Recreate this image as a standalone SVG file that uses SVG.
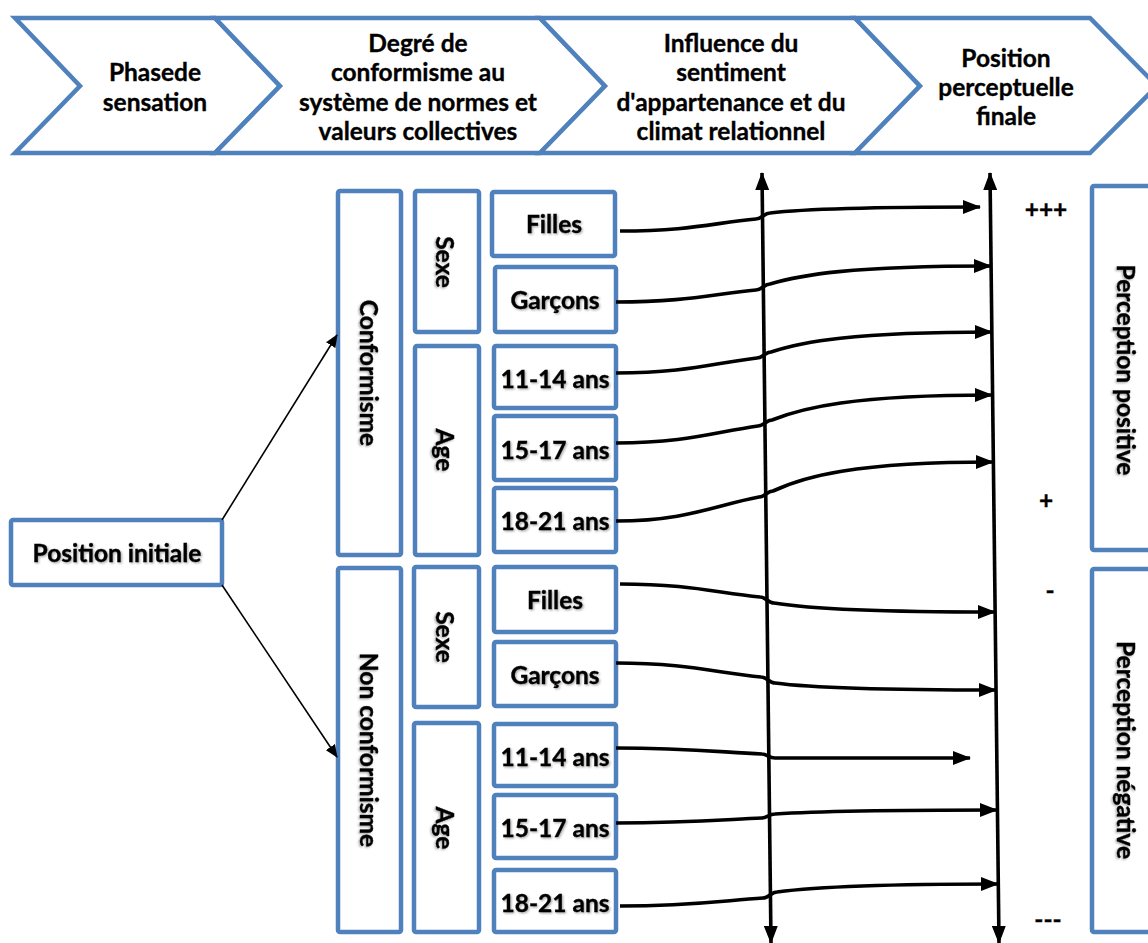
<svg xmlns="http://www.w3.org/2000/svg" width="1148" height="943" viewBox="0 0 1148 943">
<defs>
<style>
.box{fill:#fff;stroke:#4f81bd;stroke-width:4.5;stroke-linejoin:round}
.chev{fill:#fff;stroke:#4f81bd;stroke-width:4.5;stroke-linejoin:miter}
.t{font-family:Lato,"Open Sans","Liberation Sans",sans-serif;font-weight:bold;font-size:24.5px;fill:#000;stroke:#000;stroke-width:0.35;text-anchor:middle;dominant-baseline:central}
.sh{filter:url(#shadow)}
.cur{fill:none;stroke:#000;stroke-width:3.6;marker-end:url(#ah)}
.ax{fill:none;stroke:#000;stroke-width:3.6;marker-start:url(#ah);marker-end:url(#ah)}
.thin{fill:none;stroke:#000;stroke-width:1.6;marker-end:url(#ahs)}
</style>
<filter id="shadow" x="-10%" y="-30%" width="130%" height="160%">
<feDropShadow dx="1.2" dy="1.2" stdDeviation="1" flood-color="#000" flood-opacity="0.35"/>
</filter>
<marker id="ah" markerUnits="userSpaceOnUse" markerWidth="18" markerHeight="14" refX="17" refY="7" orient="auto-start-reverse" viewBox="0 0 18 14">
<path d="M0,0 L18,7 L0,14 Z" fill="#000"/>
</marker>
<marker id="ahs" markerUnits="userSpaceOnUse" markerWidth="13" markerHeight="11" refX="12" refY="5.5" orient="auto" viewBox="0 0 13 11">
<path d="M0,0 L13,5.5 L0,11 Z" fill="#000"/>
</marker>
</defs>
<rect width="1148" height="943" fill="#fff"/>

<g id="chevron1">
<polygon class="chev" points="15,18 215,18 280,86 215,153 15,153 80,86"/>
<text class="t" x="155" y="71">Phasede</text>
<text class="t" x="155" y="101">sensation</text>
</g>
<g id="chevron2">
<polygon class="chev" points="215,18 540,18 605,86 540,153 215,153 280,86"/>
<text class="t" x="418" y="42">Degré de</text>
<text class="t" x="418" y="71">conformisme au</text>
<text class="t" x="418" y="101">système de normes et</text>
<text class="t" x="418" y="130">valeurs collectives</text>
</g>
<g id="chevron3">
<polygon class="chev" points="540,18 855,18 920,86 855,153 540,153 605,86"/>
<text class="t" x="731" y="42">Influence du</text>
<text class="t" x="731" y="71">sentiment</text>
<text class="t" x="731" y="101">d'appartenance et du</text>
<text class="t" x="731" y="130">climat relationnel</text>
</g>
<g id="chevron4">
<polygon class="chev" points="855,18 1090,18 1157,86 1090,153 855,153 920,86"/>
<text class="t" x="1006" y="57">Position</text>
<text class="t" x="1006" y="86">perceptuelle</text>
<text class="t" x="1006" y="115">finale</text>
</g>

<g id="position-initiale">
<rect class="box" x="11" y="520" width="211" height="65" rx="2"/>
<text class="t sh" x="117" y="552">Position initiale</text>
</g>

<g id="conformisme">
<rect class="box" x="338" y="191" width="63" height="364" rx="2"/>
<text class="t sh" transform="translate(370,373) rotate(90)">Conformisme</text>
</g>
<g id="non-conformisme">
<rect class="box" x="338" y="568" width="63" height="364" rx="2"/>
<text class="t sh" transform="translate(370,750) rotate(90)">Non conformisme</text>
</g>

<g id="sexe-c">
<rect class="box" x="415" y="191" width="64" height="141" rx="2"/>
<text class="t sh" transform="translate(446,262) rotate(90)">Sexe</text>
</g>
<g id="age-c">
<rect class="box" x="415" y="346" width="64" height="209" rx="2"/>
<text class="t sh" transform="translate(446,450) rotate(90)">Age</text>
</g>
<g id="sexe-nc">
<rect class="box" x="414" y="567" width="65" height="140" rx="2"/>
<text class="t sh" transform="translate(446,637) rotate(90)">Sexe</text>
</g>
<g id="age-nc">
<rect class="box" x="414" y="723" width="65" height="209" rx="2"/>
<text class="t sh" transform="translate(446,828) rotate(90)">Age</text>
</g>

<g id="filles-c">
<rect class="box" x="492" y="192" width="123" height="64" rx="2"/>
<text class="t sh" x="554" y="223">Filles</text>
</g>
<g id="garcons-c">
<rect class="box" x="495" y="267" width="121" height="65" rx="2"/>
<text class="t sh" x="555" y="299">Garçons</text>
</g>
<g id="a1114-c">
<rect class="box" x="494" y="346" width="122" height="62" rx="2"/>
<text class="t sh" x="555" y="378">11-14 ans</text>
</g>
<g id="a1517-c">
<rect class="box" x="494" y="416" width="122" height="64" rx="2"/>
<text class="t sh" x="555" y="449">15-17 ans</text>
</g>
<g id="a1821-c">
<rect class="box" x="494" y="488" width="122" height="64" rx="2"/>
<text class="t sh" x="555" y="520">18-21 ans</text>
</g>

<g id="filles-nc">
<rect class="box" x="494" y="567" width="122" height="65" rx="2"/>
<text class="t sh" x="555" y="599">Filles</text>
</g>
<g id="garcons-nc">
<rect class="box" x="494" y="642" width="122" height="64" rx="2"/>
<text class="t sh" x="555" y="674">Garçons</text>
</g>
<g id="a1114-nc">
<rect class="box" x="494" y="724" width="122" height="62" rx="2"/>
<text class="t sh" x="555" y="756">11-14 ans</text>
</g>
<g id="a1517-nc">
<rect class="box" x="494" y="795" width="122" height="63" rx="2"/>
<text class="t sh" x="555" y="827">15-17 ans</text>
</g>
<g id="a1821-nc">
<rect class="box" x="494" y="870" width="122" height="62" rx="2"/>
<text class="t sh" x="555" y="902">18-21 ans</text>
</g>

<g id="perception-positive">
<rect class="box" x="1092" y="186" width="70" height="364" rx="2"/>
<text class="t sh" transform="translate(1127,370) rotate(90)">Perception positive</text>
</g>
<g id="perception-negative">
<rect class="box" x="1092" y="569" width="70" height="363" rx="2"/>
<text class="t sh" transform="translate(1127,750) rotate(90)">Perception négative</text>
</g>

<g id="scale-labels">
<text class="t" x="1046" y="208">+++</text>
<text class="t" x="1046" y="499">+</text>
<text class="t" x="1050" y="589">-</text>
<text class="t" x="1048" y="918">---</text>
</g>

<g id="connectors">
<path class="thin" d="M222,520 L337,335"/>
<path class="thin" d="M222,585 L337,757"/>
<path class="ax" d="M762,173 L771,943"/>
<path class="ax" d="M990,173 L999,943"/>
<path class="cur" d="M620,231 C690,231 713,223 756,219 C762,219 764,213 770,213 C795,210 840,207 980,207"/>
<path class="cur" d="M616,302 C686,302 713,294 756,290 C762,290 764,284 770,284 C800,275 850,266 991,266"/>
<path class="cur" d="M616,373 C686,373 714,363 757,358 C763,358 765,352 771,352 C801,342 852,332 992,332"/>
<path class="cur" d="M616,443 C686,443 715,432 758,426 C764,426 766,420 772,420 C802,408 852,395 992,395"/>
<path class="cur" d="M616,521 C686,521 716,505 759,497 C765,497 767,491 773,491 C803,477 853,462 993,462"/>
<path class="cur" d="M620,584 C690,584 717,593 760,597 C766,597 768,603 774,603 C804,608 855,612 995,612"/>
<path class="cur" d="M616,663 C686,663 718,673 761,677 C767,677 769,683 775,683 C805,687 856,690 996,690"/>
<path class="cur" d="M616,748 C686,748 719,752 762,754 C767,754 769,758 775,758 C805,758 850,758 970,758"/>
<path class="cur" d="M616,823 C686,823 719,820 762,818 C767,818 769,814 775,814 C805,812 857,810 997,810"/>
<path class="cur" d="M620,906 C690,906 720,901 763,898 C769,898 771,892 777,892 C807,888 858,884 998,884"/>
</g>
</svg>
